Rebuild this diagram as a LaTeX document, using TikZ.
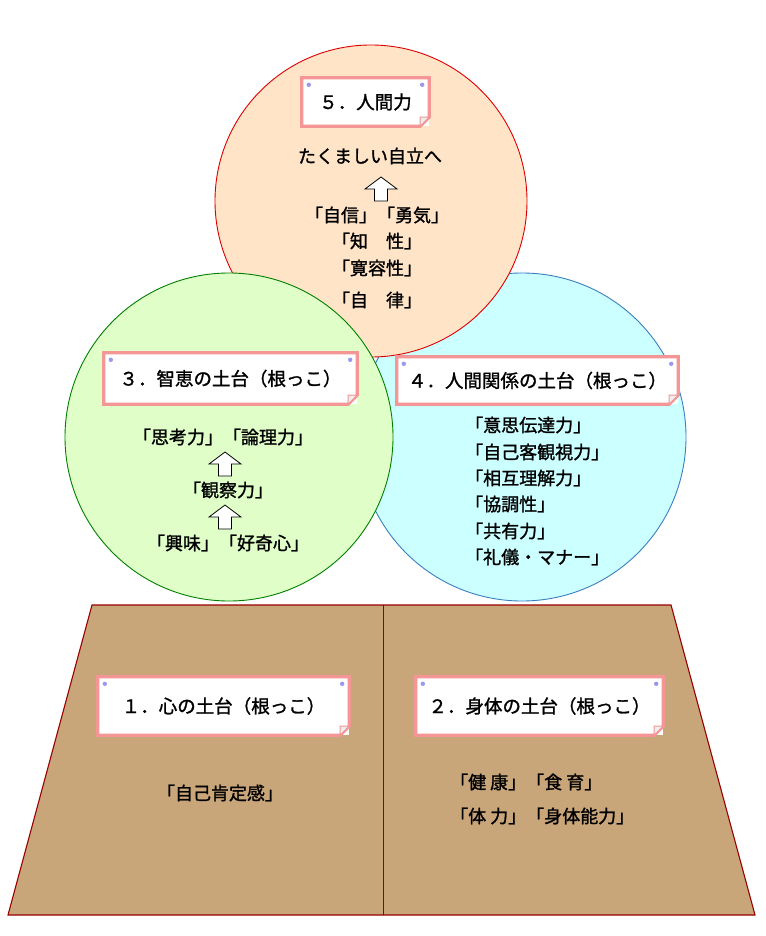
\documentclass[tikz,border=0pt]{standalone}
\usepackage{fontspec}
\setmainfont{Noto Sans CJK JP}[FakeBold=1.3]
\definecolor{orfill}{HTML}{FFE4C8}
\definecolor{ordraw}{HTML}{DD0000}
\definecolor{grfill}{HTML}{E0FFC8}
\definecolor{grdraw}{HTML}{008000}
\definecolor{blfill}{HTML}{CCFFFF}
\definecolor{bldraw}{HTML}{3A7FBF}
\definecolor{trfill}{HTML}{C9A57A}
\definecolor{trdraw}{HTML}{990000}
\definecolor{pinkc}{HTML}{F49696}
\definecolor{pinc}{HTML}{9999EE}
\definecolor{foldc}{HTML}{EEEEEE}
\tikzset{
  txt/.style={inner sep=0pt, font=\fontsize{18pt}{22pt}\selectfont},
  lbl/.style={inner sep=0pt, fill=white, font=\fontsize{18.5pt}{22pt}\selectfont},
  lblborder/.style={draw=pinkc, line width=3.2pt, line join=miter},
  foldtri/.style={fill=foldc, draw=pinkc, line width=1pt},
  hollowarrow/.style={draw=black, fill=white, line width=0.8pt, line join=miter},
  uparrow/.pic={
    \path[hollowarrow] (0,-12) -- (16,0) -- (6.5,0) -- (6.5,12) -- (-6.5,12) -- (-6.5,0) -- (-16,0) -- cycle;
  }
}
\newcommand{\decorlbl}[1]{%
  \draw[lblborder] (#1.north west) -- (#1.north east) -- ([yshift=9pt]#1.south east) -- ([xshift=-9pt]#1.south east) -- (#1.south west) -- cycle;
  \path[foldtri] ([yshift=9pt]#1.south east) -- ([xshift=-9pt,yshift=9pt]#1.south east) -- ([xshift=-9pt]#1.south east) -- cycle;
  \fill[pinc] ([xshift=7pt,yshift=-7pt]#1.north west) circle (2.2pt);
  \fill[pinc] ([xshift=-7pt,yshift=-7pt]#1.north east) circle (2.2pt);
}
\begin{document}
\begin{tikzpicture}[x=1pt,y=-1pt]
\useasboundingbox (0,0) rectangle (765,936);
\fill[white] (0,0) rectangle (765,936);

% circles: blue, orange, green
\draw[fill=blfill, draw=bldraw, line width=0.9pt] (522,437) circle (164pt);
\draw[fill=orfill, draw=ordraw, line width=0.9pt] (371,201) circle (156pt);
\draw[fill=grfill, draw=grdraw, line width=0.9pt] (229,437) circle (164pt);

% trapezoid base
\draw[fill=trfill, draw=trdraw, line width=1.1pt] (92,605) -- (671,605) -- (755,915) -- (8,915) -- cycle;
\draw[draw=trdraw, line width=1pt] (383,605) -- (383,915);

% label 5
\node[lbl, minimum width=127pt, minimum height=48pt] (b5) at (365.5,102) {５．人間力};
\decorlbl{b5}
\node[txt] (t5a) at (370,156) {たくましい自立へ};
\pic at (381,189) {uparrow};
\node[txt] (t5b) at (377,215) {「自信」「勇気」};
\node[txt] (t5c) at (377,241) {「知　性」};
\node[txt] (t5d) at (377,268) {「寛容性」};
\node[txt] (t5e) at (377,300) {「自　律」};

% label 3
\node[lbl, minimum width=253pt, minimum height=51pt] (b3) at (230.5,378.5) {３．智恵の土台（根っこ）};
\decorlbl{b3}
\node[txt] (t3a) at (223,437) {「思考力」「論理力」};
\pic at (225,464) {uparrow};
\node[txt] (t3b) at (228,490) {「観察力」};
\pic at (225,517) {uparrow};
\node[txt] (t3c) at (228,543) {「興味」「好奇心」};

% label 4
\node[lbl, minimum width=281pt, minimum height=47pt] (b4) at (537.5,380.5) {４．人間関係の土台（根っこ）};
\decorlbl{b4}
\node[txt, anchor=west] (t4a) at (465,425) {「意思伝達力」};
\node[txt, anchor=west] (t4b) at (465,452) {「自己客観視力」};
\node[txt, anchor=west] (t4c) at (465,478) {「相互理解力」};
\node[txt, anchor=west] (t4d) at (465,504) {「協調性」};
\node[txt, anchor=west] (t4e) at (465,531) {「共有力」};
\node[txt, anchor=west] (t4f) at (465,557) {「礼儀・マナー」};

% label 1
\node[lbl, minimum width=251pt, minimum height=58pt] (b1) at (223.5,706) {１．心の土台（根っこ）};
\decorlbl{b1}
\node[txt] (t1a) at (220,793) {「自己肯定感」};

% label 2
\node[lbl, minimum width=247pt, minimum height=58pt] (b2) at (539.5,706) {２．身体の土台（根っこ）};
\decorlbl{b2}
\node[txt, anchor=west] (t2a) at (450,782) {「健 康」「食 育」};
\node[txt, anchor=west] (t2b) at (450,816) {「体 力」「身体能力」};
\end{tikzpicture}
\end{document}
